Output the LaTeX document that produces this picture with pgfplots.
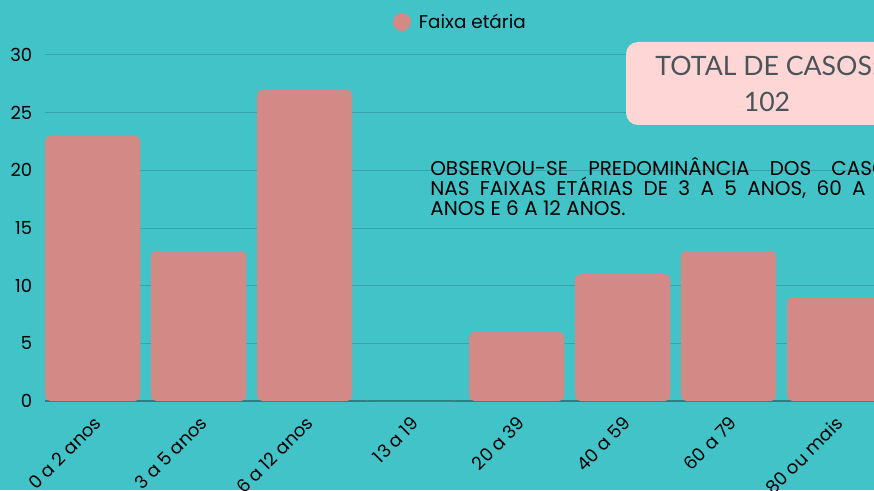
\documentclass[border=0pt]{standalone}
\usepackage{pgfplots}
\pgfplotsset{compat=1.18}
\usepackage{fontspec}
\setmainfont{Poppins}
\newfontfamily\boxfont{Lato}
\definecolor{bg}{HTML}{42C3C8}
\definecolor{barc}{HTML}{D38A87}
\definecolor{gridc}{HTML}{38A3AA}
\definecolor{axisc}{HTML}{2F7D84}
\definecolor{boxc}{HTML}{FFD6D6}
\definecolor{boxt}{HTML}{4A5459}
\begin{document}
\begin{tikzpicture}[x=0.75pt,y=0.75pt]
\useasboundingbox (0,0) rectangle (874,490);
\fill[bg] (0,0) rectangle (874,490);
\begin{scope}
\clip (0,0) rectangle (874,490);
\begin{axis}[
  at={(33.75pt,66.75pt)}, anchor=south west,
  x=79.5pt, y=8.65pt,
  xmin=-0.45, xmax=7.55, ymin=0, ymax=30,
  ybar, bar width=71.5pt,
  axis x line*=bottom, axis y line*=left,
  x axis line style={draw=axisc, line width=0.9pt},
  y axis line style={draw=none},
  ytick={0,5,...,30}, xtick={0,...,7},
  xticklabels={0 a 2 anos, 3 a 5 anos, 6 a 12 anos, 13 a 19, 20 a 39, 40 a 59, 60 a 79, 80 ou mais},
  major tick length=0pt,
  ymajorgrids, grid style={draw=gridc, line width=0.75pt},
  tick label style={font=\fontsize{13.5}{16}\selectfont, text=black},
  /pgf/number format/assume math mode=true,
  yticklabel style={xshift=-6pt},
  xticklabel style={xshift=6pt, yshift=-12pt, rotate=45, anchor=east},
  legend style={draw=none, fill=none, at={(0.410,1.095)}, anchor=west, inner sep=0pt,
    font=\fontsize{13.8}{16}\selectfont, column sep=4pt},
  legend image code/.code={\fill[barc] (6.75pt,0pt) circle (6.75pt);},
  legend cell align=left,
]
\addplot[fill=barc, draw=none, rounded corners=4pt] coordinates {(0,23) (1,13) (2,27) (3,0) (4,6) (5,11) (6,13) (7,9)};
\addlegendentry{Faixa etária}
\end{axis}
\fill[boxc, rounded corners=9pt] (626,365) rectangle (910,448);
\node[text=boxt, font=\boxfont\fontsize{20}{25}\selectfont, anchor=base, inner sep=0pt] at (767,414) {TOTAL DE CASOS:};
\node[text=boxt, font=\boxfont\fontsize{20}{25}\selectfont, anchor=base, inner sep=0pt] at (767,378) {102};
\begin{scope}[every node/.style={anchor=base west, inner sep=0pt, font=\fontsize{15}{15}\selectfont}]
\node at (430,315) {\makebox[352pt][s]{OBSERVOU-SE PREDOMINÂNCIA DOS CASOS}};
\node at (430,295) {\makebox[352pt][s]{NAS FAIXAS ETÁRIAS DE 3 A 5 ANOS, 60 A 79}};
\node at (430,275) {ANOS E 6 A 12 ANOS.};
\end{scope}
\end{scope}
\end{tikzpicture}
\end{document}
